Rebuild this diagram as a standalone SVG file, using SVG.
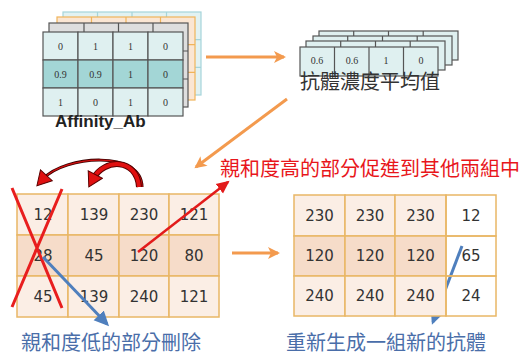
<svg xmlns="http://www.w3.org/2000/svg" width="526" height="356" viewBox="0 0 526 356">
<defs>
<style>
.sn{font-family:"Liberation Serif","DejaVu Serif",serif;font-size:10px;fill:#333;text-anchor:middle}
.num{font-family:"DejaVu Sans","Liberation Sans",sans-serif;font-size:15px;fill:#333;text-anchor:middle}
.cjk{font-family:"Noto Sans CJK TC","Noto Sans CJK SC",sans-serif;font-size:20px}
.lt{fill:#dff0f0;stroke:#555;stroke-width:1.2}
.ltd{fill:#a3d6d6;stroke:#555;stroke-width:1.2}
.pk{fill:#fbeee5;stroke:#e9b766;stroke-width:1.5}
.pkd{fill:#f6dcc9;stroke:#e9b766;stroke-width:1.5}
.wh{fill:none;stroke:#e9b766;stroke-width:1.5}
.oa{fill:none;stroke:#f39a4e;stroke-width:3}
</style>
<marker id="mo" markerUnits="userSpaceOnUse" markerWidth="14" markerHeight="14" refX="11" refY="7" orient="auto"><path d="M1,1 L13,7 L1,13 L4,7 z" fill="#f39a4e"/></marker>
<marker id="mr" markerUnits="userSpaceOnUse" markerWidth="14" markerHeight="14" refX="11" refY="7" orient="auto"><path d="M0,1 L13,7 L0,13 z" fill="#e21b1b"/></marker>
<marker id="mb" markerUnits="userSpaceOnUse" markerWidth="16" markerHeight="16" refX="12" refY="8" orient="auto"><path d="M0,1 L15,8 L0,15 z" fill="#4f7fbd"/></marker>
<marker id="mc" markerUnits="userSpaceOnUse" markerWidth="18" markerHeight="18" refX="6" refY="9" orient="auto"><path d="M1,1 L15,9 L1,17 z" fill="#e01010" stroke="#5a0000" stroke-width="1"/></marker>
</defs>
<rect width="526" height="356" fill="#fff"/>

<g id="affinity-stack">
  <g fill="#e2f2f2" stroke="#a6d4da" stroke-width="1.2">
    <rect x="63" y="12" width="138" height="83"/>
    <path d="M97.5,12V95M132,12V95M166.5,12V95M63,39.7H201M63,67.3H201"/>
  </g>
  <g fill="#fbe6d3" stroke="#f0b45a" stroke-width="1.2">
    <rect x="57" y="17" width="138" height="83"/>
    <path d="M91.5,17V100M126,17V100M160.5,17V100M57,44.7H195M57,72.3H195"/>
  </g>
  <g fill="#dedede" stroke="#555" stroke-width="1.2">
    <rect x="49" y="23" width="139" height="84"/>
    <path d="M84,23V107M118.5,23V107M153,23V107M49,51H188M49,79H188"/>
  </g>
  <rect class="lt" x="43" y="32" width="35" height="28"/>
  <rect class="lt" x="78" y="32" width="35" height="28"/>
  <rect class="lt" x="113" y="32" width="35" height="28"/>
  <rect class="lt" x="148" y="32" width="35" height="28"/>
  <rect class="ltd" x="43" y="60" width="35" height="28"/>
  <rect class="ltd" x="78" y="60" width="35" height="28"/>
  <rect class="ltd" x="113" y="60" width="35" height="28"/>
  <rect class="ltd" x="148" y="60" width="35" height="28"/>
  <rect class="lt" x="43" y="88" width="35" height="28"/>
  <rect class="lt" x="78" y="88" width="35" height="28"/>
  <rect class="lt" x="113" y="88" width="35" height="28"/>
  <rect class="lt" x="148" y="88" width="35" height="28"/>
  <text class="sn" x="60.5" y="49.5">0</text><text class="sn" x="95.5" y="49.5">1</text><text class="sn" x="130.5" y="49.5">1</text><text class="sn" x="165.5" y="49.5">0</text>
  <text class="sn" x="60.5" y="77.5">0.9</text><text class="sn" x="95.5" y="77.5">0.9</text><text class="sn" x="130.5" y="77.5">1</text><text class="sn" x="165.5" y="77.5">0</text>
  <text class="sn" x="60.5" y="105.5">1</text><text class="sn" x="95.5" y="105.5">0</text><text class="sn" x="130.5" y="105.5">1</text><text class="sn" x="165.5" y="105.5">0</text>
  <text x="55" y="127" font-family="'Liberation Sans',Arial,sans-serif" font-size="17" font-weight="bold" fill="#222">Affinity_Ab</text>
</g>

<g id="average-stack">
  <g fill="#dff0f0" stroke="#555" stroke-width="1.2">
    <rect x="319" y="31" width="139" height="29"/>
    <path d="M353.7,31V60M388.5,31V60M423.2,31V60"/>
    <rect x="313" y="36" width="139" height="29"/>
    <path d="M347.7,36V65M382.5,36V65M417.2,36V65"/>
    <rect x="306" y="41" width="139" height="29"/>
    <path d="M340.7,41V70M375.5,41V70M410.2,41V70"/>
    <rect x="300" y="47" width="138" height="29"/>
    <path d="M334.5,47V76M369,47V76M403.5,47V76"/>
  </g>
  <text class="sn" x="317" y="64">0.6</text><text class="sn" x="352" y="64">0.6</text><text class="sn" x="386" y="64">1</text><text class="sn" x="421" y="64">0</text>
  <text class="cjk" x="300" y="89" font-size="18" fill="#333">抗體濃度平均值</text>
</g>

<g id="connectors">
  <path class="oa" d="M206,57 H284" marker-end="url(#mo)"/>
  <path class="oa" d="M287,99 L196,167" marker-end="url(#mo)"/>
  <path class="oa" d="M232,253 H278" marker-end="url(#mo)"/>
  <path d="M462,246 L433,322" fill="none" stroke="#4f7fbd" stroke-width="3" marker-end="url(#mb)"/>
</g>

<g id="old-antibodies">
  <rect class="pk" x="17" y="194" width="51" height="41"/>
  <rect class="pk" x="68" y="194" width="51" height="41"/>
  <rect class="pk" x="119" y="194" width="50" height="41"/>
  <rect class="pk" x="169" y="194" width="50" height="41"/>
  <rect class="pkd" x="17" y="235" width="51" height="41"/>
  <rect class="pkd" x="68" y="235" width="51" height="41"/>
  <rect class="pkd" x="119" y="235" width="50" height="41"/>
  <rect class="pkd" x="169" y="235" width="50" height="41"/>
  <rect class="pk" x="17" y="276" width="51" height="41"/>
  <rect class="pk" x="68" y="276" width="51" height="41"/>
  <rect class="pk" x="119" y="276" width="50" height="41"/>
  <rect class="pk" x="169" y="276" width="50" height="41"/>
  <text class="num" x="43" y="220">12</text><text class="num" x="94" y="220">139</text><text class="num" x="144" y="220">230</text><text class="num" x="194" y="220">121</text>
  <text class="num" x="43" y="261">28</text><text class="num" x="94" y="261">45</text><text class="num" x="144" y="261">120</text><text class="num" x="194" y="261">80</text>
  <text class="num" x="43" y="302">45</text><text class="num" x="94" y="302">139</text><text class="num" x="144" y="302">240</text><text class="num" x="194" y="302">121</text>
</g>

<g id="new-antibodies">
  <rect class="pk" x="294" y="195" width="51" height="41"/>
  <rect class="pk" x="345" y="195" width="50" height="41"/>
  <rect class="pk" x="395" y="195" width="51" height="41"/>
  <rect class="wh" x="446" y="195" width="50" height="41"/>
  <rect class="pkd" x="294" y="236" width="51" height="40"/>
  <rect class="pkd" x="345" y="236" width="50" height="40"/>
  <rect class="pkd" x="395" y="236" width="51" height="40"/>
  <rect class="wh" x="446" y="236" width="50" height="40"/>
  <rect class="pk" x="294" y="276" width="51" height="40"/>
  <rect class="pk" x="345" y="276" width="50" height="40"/>
  <rect class="pk" x="395" y="276" width="51" height="40"/>
  <rect class="wh" x="446" y="276" width="50" height="40"/>
  <text class="num" x="319.5" y="221">230</text><text class="num" x="370" y="221">230</text><text class="num" x="420.5" y="221">230</text><text class="num" x="471" y="221">12</text>
  <text class="num" x="319.5" y="261">120</text><text class="num" x="370" y="261">120</text><text class="num" x="420.5" y="261">120</text><text class="num" x="471" y="261">65</text>
  <text class="num" x="319.5" y="301">240</text><text class="num" x="370" y="301">240</text><text class="num" x="420.5" y="301">240</text><text class="num" x="471" y="301">24</text>
</g>

<g id="overlay-connectors">
  <path d="M12,188 L62,308 M62,189 L12,307" fill="none" stroke="#e81e1e" stroke-width="3"/>
  <path d="M138,252 L228,182" fill="none" stroke="#e21b1b" stroke-width="2.5" marker-end="url(#mr)"/>
  <path d="M43,257 L107,324" fill="none" stroke="#4f7fbd" stroke-width="3" marker-end="url(#mb)"/>
  <path d="M142,187 C142,150 65,155 43,179" fill="none" stroke="#3a0000" stroke-width="3"/>
  <path d="M142,187 C142,150 65,155 43,179" fill="none" stroke="#d01010" stroke-width="1.4" marker-end="url(#mc)"/>
  <path d="M139,187 C137,158 104,158 93,179" fill="none" stroke="#5a0000" stroke-width="6"/>
  <path d="M139,187 C137,158 104,158 93,179" fill="none" stroke="#e01010" stroke-width="4" marker-end="url(#mc)"/>
</g>

<g id="labels">
  <text class="cjk" x="220" y="176" fill="#e8161b">親和度高的部分促進到其他兩組中</text>
  <text class="cjk" x="21" y="350" fill="#4a6ea9">親和度低的部分刪除</text>
  <text class="cjk" x="286" y="350" fill="#4a6ea9">重新生成一組新的抗體</text>
</g>
</svg>
